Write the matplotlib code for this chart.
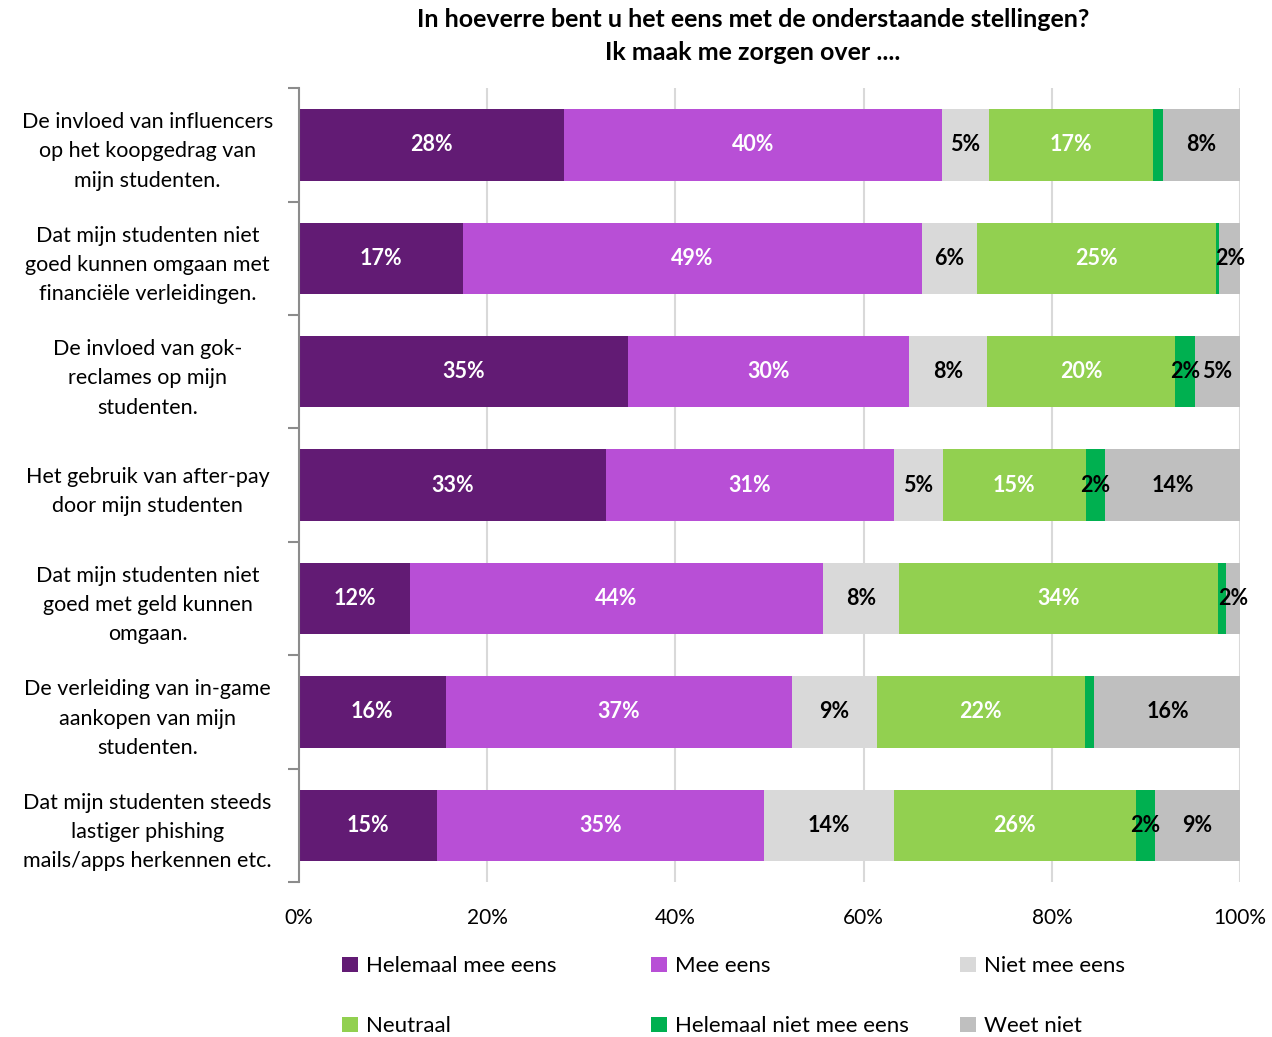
import numpy as np
import matplotlib
matplotlib.use("Agg")
import matplotlib.pyplot as plt
from matplotlib.patches import Patch

plt.rcParams['font.family'] = ['Lato', 'DejaVu Sans']

# stellingen (top to bottom)
stellingen = [
    "De invloed van influencers\nop het koopgedrag van\nmijn studenten.",
    "Dat mijn studenten niet\ngoed kunnen omgaan met\nfinanciële verleidingen.",
    "De invloed van gok-\nreclames op mijn\nstudenten.",
    "Het gebruik van after-pay\ndoor mijn studenten",
    "Dat mijn studenten niet\ngoed met geld kunnen\nomgaan.",
    "De verleiding van in-game\naankopen van mijn\nstudenten.",
    "Dat mijn studenten steeds\nlastiger phishing\nmails/apps herkennen etc.",
]

# percentages per answer
helemaal_mee_eens = [28.2, 17.4, 35.0, 32.6, 11.8, 15.6, 14.7]
mee_eens = [40.1, 48.8, 29.8, 30.6, 43.9, 36.8, 34.7]
niet_mee_eens = [5.0, 5.8, 8.3, 5.2, 8.1, 9.0, 13.8]
neutraal = [17.4, 25.4, 20.0, 15.2, 33.8, 22.1, 25.7]
helemaal_niet_mee_eens = [1.1, 0.4, 2.1, 2.0, 0.9, 1.0, 2.0]
weet_niet = [8.2, 2.2, 4.8, 14.4, 1.6, 15.6, 9.1]

series = [
    ("Helemaal mee eens", helemaal_mee_eens, "#621B74", "white"),
    ("Mee eens", mee_eens, "#B84FD6", "white"),
    ("Niet mee eens", niet_mee_eens, "#D9D9D9", "black"),
    ("Neutraal", neutraal, "#92D050", "white"),
    ("Helemaal niet mee eens", helemaal_niet_mee_eens, "#00B050", "black"),
    ("Weet niet", weet_niet, "#BFBFBF", "black"),
]

fig = plt.figure(figsize=(12.72, 10.37), dpi=100)
ax = fig.add_axes([0.235, 0.1495, 0.74, 0.7655])

y = np.arange(len(stellingen))
left = np.zeros(len(stellingen))
handles = {}
for name, vals, color, tcol in series:
    vals = np.array(vals)
    ax.barh(y, vals, left=left, height=0.63, color=color, zorder=3)
    handles[name] = Patch(facecolor=color)
    for yi, (l, v) in enumerate(zip(left, vals)):
        if v >= 1.5:
            ax.text(l + v / 2, yi, f"{v:.0f}%", ha='center', va='center',
                    color=tcol, fontsize=15.5, fontweight='bold', zorder=4)
    left = left + vals

ax.set_xlim(0, 100)
ax.set_ylim(len(stellingen) - 0.5, -0.5)
ax.set_xticks(np.arange(0, 101, 20))
ax.set_xticklabels([f"{t}%" for t in range(0, 101, 20)], fontsize=15)
ax.tick_params(axis='x', length=0, pad=19)
ax.grid(axis='x', color='#D9D9D9', linewidth=1.5, zorder=0)

ax.set_yticks(y)
ax.set_yticklabels(stellingen, fontsize=15.5, ha='center', linespacing=1.58)
ax.tick_params(axis='y', length=0, pad=109)
ax.set_yticks(np.arange(-0.5, len(stellingen), 1), minor=True)
ax.tick_params(axis='y', which='minor', length=8, width=1.5, color='#8C8C8C')

for s in ['top', 'right', 'bottom']:
    ax.spines[s].set_visible(False)
ax.spines['left'].set_color('#8C8C8C')
ax.spines['left'].set_linewidth(1.5)
ax.spines['left'].set_zorder(5)

fig.text(0.592, 0.992, "In hoeverre bent u het eens met de onderstaande stellingen?\nIk maak me zorgen over ....",
         ha='center', va='top', fontsize=18, fontweight='bold', linespacing=1.5)

# legend: three columns of two entries
cols = [("Helemaal mee eens", "Neutraal"),
        ("Mee eens", "Helemaal niet mee eens"),
        ("Niet mee eens", "Weet niet")]
xs = [0.269, 0.512, 0.755]
for x0, names in zip(xs, cols):
    fig.legend([handles[n] for n in names], list(names), loc='upper left',
               bbox_to_anchor=(x0, 0.078), frameon=False, fontsize=16,
               handlelength=0.7, handleheight=0.7, handletextpad=0.35,
               labelspacing=1.8, borderaxespad=0, borderpad=0)

fig.savefig("out.png", dpi=100)
